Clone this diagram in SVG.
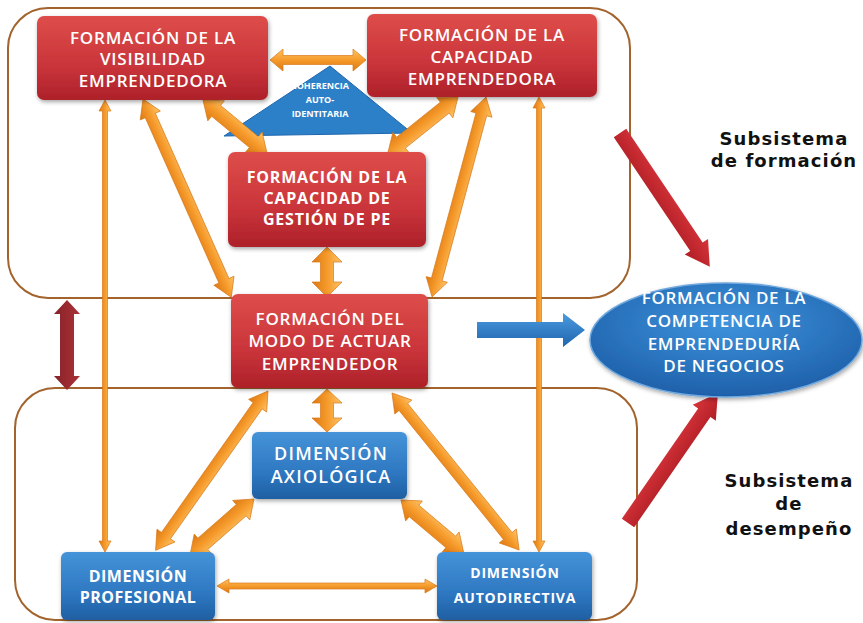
<svg xmlns="http://www.w3.org/2000/svg" width="863" height="623" viewBox="0 0 863 623">
<defs>
<linearGradient id="og" x1="0" y1="0" x2="0" y2="1"><stop offset="0" stop-color="#ffc466"/><stop offset="0.5" stop-color="#f59a2b"/><stop offset="1" stop-color="#dd7812"/></linearGradient>
<linearGradient id="rg" x1="0" y1="0" x2="0" y2="1"><stop offset="0" stop-color="#de4d4a"/><stop offset="0.6" stop-color="#c9343a"/><stop offset="1" stop-color="#ad2129"/></linearGradient>
<linearGradient id="bg" x1="0" y1="0" x2="0" y2="1"><stop offset="0" stop-color="#4593d8"/><stop offset="0.6" stop-color="#2e78c2"/><stop offset="1" stop-color="#1f5fa2"/></linearGradient>
<radialGradient id="eg" cx="0.5" cy="0.35" r="0.7"><stop offset="0" stop-color="#3d93dc"/><stop offset="1" stop-color="#1c5ca6"/></radialGradient>
<linearGradient id="dr" x1="0" y1="0" x2="0" y2="1"><stop offset="0" stop-color="#a83238"/><stop offset="0.5" stop-color="#9a2a30"/><stop offset="1" stop-color="#85222a"/></linearGradient>
<linearGradient id="rr" x1="0" y1="0" x2="0" y2="1"><stop offset="0" stop-color="#d6343a"/><stop offset="1" stop-color="#b01e25"/></linearGradient>
<linearGradient id="ba" x1="0" y1="0" x2="0" y2="1"><stop offset="0" stop-color="#4a9be0"/><stop offset="1" stop-color="#1f65ad"/></linearGradient>
<filter id="sh" x="-10%" y="-10%" width="125%" height="130%"><feDropShadow dx="1" dy="2" stdDeviation="2" flood-color="#000" flood-opacity="0.35"/></filter>
</defs>
<style>
.box{fill:none;stroke:#a2632c;stroke-width:2}
.oa{fill:url(#og);stroke:#d97a1a;stroke-width:0.7}
.red{fill:url(#rg);filter:url(#sh)}
.blue{fill:url(#bg);filter:url(#sh)}
.t{font-family:"Open Sans","DejaVu Sans",sans-serif;fill:#fff;text-anchor:middle;font-weight:600}
.b{font-weight:bold}
.lab{font-family:"DejaVu Sans","Liberation Sans",sans-serif;font-weight:bold;font-size:18px;fill:#111;text-anchor:middle;letter-spacing:1.1px}
</style>
<rect width="863" height="623" fill="#fff"/>
<g id="containers">
<rect class="box" x="8" y="8" width="622" height="290" rx="40"/>
<rect class="box" x="15" y="388" width="622" height="232" rx="40"/>
</g>
<g id="triangle">
<polygon points="330,66 224,136 412,133" fill="#2b80c8" stroke="#1f66ad" stroke-width="1"/>
<text class="t b" font-size="9" x="320" y="89">COHERENCIA</text>
<text class="t b" font-size="9" x="320" y="103">AUTO-</text>
<text class="t b" font-size="9" x="320" y="117">IDENTITARIA</text>
</g>
<g id="connectors">
<polygon class="oa" transform="translate(270,60)" points="0,0 13,-11 13,-4.5 83,-4.5 83,-11 96,0 83,11 83,4.5 13,4.5 13,11"/>
<polygon class="oa" transform="translate(203,100) rotate(39.6)" points="0,0 17,-13 17,-7 66,-7 66,-13 83,0 66,13 66,7 17,7 17,13"/>
<polygon class="oa" transform="translate(458,97) rotate(141.3)" points="0,0 17,-13 17,-7 73,-7 73,-13 90,0 73,13 73,7 17,7 17,13"/>
<polygon class="oa" transform="translate(327,247) rotate(90)" points="0,0 15,-15 15,-6.5 35,-6.5 35,-15 50,0 35,15 35,6.5 15,6.5 15,15"/>
<polygon class="oa" transform="translate(143,99) rotate(66)" points="0,0 18,-11 18,-5.5 199,-5.5 199,-11 217,0 199,11 199,5.5 18,5.5 18,11"/>
<polygon class="oa" transform="translate(486,97) rotate(105.1)" points="0,0 18,-11 18,-5.5 189,-5.5 189,-11 207,0 189,11 189,5.5 18,5.5 18,11"/>
<polygon class="oa" transform="translate(105,100) rotate(90)" points="0,0 11,-6 11,-2.5 441,-2.5 441,-6 452,0 441,6 441,2.5 11,2.5 11,6"/>
<polygon class="oa" transform="translate(539,97) rotate(90)" points="0,0 11,-6 11,-2.5 444,-2.5 444,-6 455,0 444,6 444,2.5 11,2.5 11,6"/>
<polygon class="oa" transform="translate(327,389) rotate(90)" points="0,0 14,-15 14,-6.5 29,-6.5 29,-15 43,0 29,15 29,6.5 14,6.5 14,15"/>
<polygon class="oa" transform="translate(268,391) rotate(125.2)" points="0,0 18,-11 18,-5.5 177,-5.5 177,-11 195,0 177,11 177,5.5 18,5.5 18,11"/>
<polygon class="oa" transform="translate(254,499) rotate(138.8)" points="0,0 17,-13 17,-7.5 68,-7.5 68,-13 85,0 68,13 68,7.5 17,7.5 17,13"/>
<polygon class="oa" transform="translate(392,393) rotate(51)" points="0,0 18,-11 18,-5.5 184,-5.5 184,-11 202,0 184,11 184,5.5 18,5.5 18,11"/>
<polygon class="oa" transform="translate(401,500) rotate(40.1)" points="0,0 17,-13 17,-7.5 65,-7.5 65,-13 82,0 65,13 65,7.5 17,7.5 17,13"/>
<polygon class="oa" transform="translate(217,586)" points="0,0 12,-7 12,-3 208,-3 208,-7 220,0 208,7 208,3 12,3 12,7"/>
<polygon fill="url(#dr)" transform="translate(67,300) rotate(90)" points="0,0 14,-13 14,-7 76,-7 76,-13 90,0 76,13 76,7 14,7 14,13"/>
<polygon fill="url(#ba)" points="477,322 563,322 563,313 585,330 563,347 563,338 477,338"/>
<polygon fill="url(#rr)" transform="translate(620,133) rotate(56.1)" points="0,-7.5 137,-7.5 137,-14 161,0 137,14 137,7.5 0,7.5"/>
<polygon fill="url(#rr)" transform="translate(628,523) rotate(-55.3)" points="0,-7.5 134,-7.5 134,-14 158,0 134,14 134,7.5 0,7.5"/>
</g>
<g id="n1">
<rect class="red" x="37" y="16" width="231" height="84" rx="7"/>
<text class="t" font-size="17" letter-spacing="0.8" x="153" y="44">FORMACIÓN DE LA</text>
<text class="t" font-size="17" letter-spacing="0.8" x="153" y="65">VISIBILIDAD</text>
<text class="t" font-size="17" letter-spacing="0.8" x="153" y="87">EMPRENDEDORA</text>
</g>
<g id="n2">
<rect class="red" x="367" y="14" width="230" height="83" rx="7"/>
<text class="t" font-size="17" letter-spacing="0.8" x="482" y="41">FORMACIÓN DE LA</text>
<text class="t" font-size="17" letter-spacing="0.8" x="482" y="63">CAPACIDAD</text>
<text class="t" font-size="17" letter-spacing="0.8" x="482" y="85">EMPRENDEDORA</text>
</g>
<g id="n3">
<rect class="red" x="228" y="152" width="198" height="95" rx="7"/>
<text class="t b" font-size="16" letter-spacing="0.8" x="327" y="183">FORMACIÓN DE LA</text>
<text class="t b" font-size="16" letter-spacing="0.8" x="327" y="204">CAPACIDAD DE</text>
<text class="t b" font-size="16" letter-spacing="0.8" x="327" y="225">GESTIÓN DE PE</text>
</g>
<g id="n4">
<rect class="red" x="231" y="294" width="197" height="94" rx="7"/>
<text class="t" font-size="17" letter-spacing="0.8" x="330" y="325">FORMACIÓN DEL</text>
<text class="t" font-size="17" letter-spacing="0.8" x="330" y="347">MODO DE ACTUAR</text>
<text class="t" font-size="17" letter-spacing="0.8" x="330" y="370">EMPRENDEDOR</text>
</g>
<g id="n5">
<rect class="blue" x="252" y="432" width="155" height="67" rx="6"/>
<text class="t" font-size="18" letter-spacing="1.2" x="331" y="460">DIMENSIÓN</text>
<text class="t" font-size="18" letter-spacing="1.2" x="331" y="483">AXIOLÓGICA</text>
</g>
<g id="n6">
<rect class="blue" x="61" y="552" width="154" height="68" rx="6"/>
<text class="t b" font-size="16" letter-spacing="0.5" x="138" y="582">DIMENSIÓN</text>
<text class="t b" font-size="16" letter-spacing="0.5" x="138" y="603">PROFESIONAL</text>
</g>
<g id="n7">
<rect class="blue" x="437" y="552" width="155" height="68" rx="6"/>
<text class="t b" font-size="14" letter-spacing="0.8" x="515" y="578">DIMENSIÓN</text>
<text class="t b" font-size="14" letter-spacing="0.8" x="515" y="603">AUTODIRECTIVA</text>
</g>
<g id="n8">
<ellipse cx="726" cy="340" rx="136" ry="57" fill="url(#eg)" stroke="#6fa8de" stroke-width="1.5" filter="url(#sh)"/>
<text class="t" font-size="17" letter-spacing="0.7" x="724" y="304">FORMACIÓN DE LA</text>
<text class="t" font-size="17" letter-spacing="0.7" x="724" y="327">COMPETENCIA DE</text>
<text class="t" font-size="17" letter-spacing="0.7" x="724" y="350">EMPRENDEDURÍA</text>
<text class="t" font-size="17" letter-spacing="0.7" x="724" y="372">DE NEGOCIOS</text>
</g>
<g id="labels">
<text class="lab" x="784" y="145">Subsistema</text>
<text class="lab" x="784" y="167">de formación</text>
<text class="lab" x="789" y="487">Subsistema</text>
<text class="lab" x="789" y="510">de</text>
<text class="lab" x="789" y="535">desempeño</text>
</g>
</svg>
